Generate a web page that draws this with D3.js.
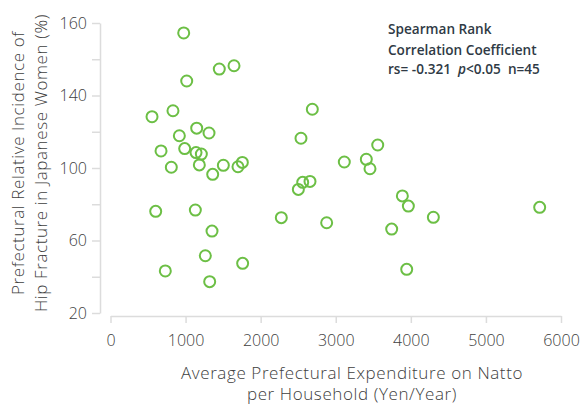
<!DOCTYPE html>
<html>
<head>
<meta charset="utf-8">
<script src="https://cdn.jsdelivr.net/npm/d3@7"></script>
<style>
	body{margin:0;background:#fff;}
	svg{display:block;font-family:"Open Sans",Lato,sans-serif;}
	.axis path,.axis line{stroke:#dcdcdc;stroke-width:1.5;}
	.axis text{fill:#404040;font-size:16px;font-family:"Open Sans",sans-serif;font-weight:300;}
	.title{fill:#404040;font-size:17px;font-weight:300;letter-spacing:0.6px;}
	.note{fill:#2f3a45;font-size:13.6px;font-weight:600;white-space:pre;}
</style>
</head>
<body>
<svg id="chart"></svg>
<script>
// natto spending (yen/year) and hip fracture incidence (%) per prefecture
const natto = [975,1449,1645,1015,553,832,1148,1312,917,673,988,1139,1210,810,1183,1361,1503,1698,1756,
	602,1130,1352,1263,1760,730,1321,2688,2537,3559,3114,3407,3456,2560,2657,2502,2275,2879,3887,3967,4300,3745,3945,5716];
const incidence = [174.5,154.6,156.4,148,128.3,131.6,122,119.3,117.8,109.4,110.7,108.5,107.7,100.4,101.7,96.5,101.5,100.7,103.1,
	76.1,76.8,65.2,51.6,47.4,43.2,37.3,132.4,116.4,112.7,103.3,104.8,99.6,92.1,92.6,88.2,72.6,69.8,84.6,79.0,72.8,66.3,44.1,78.3];
const xTicks = [0,1000,2000,3000,4000,5000,6000];
const yTicks = [20,40,60,80,100,120,140,160,180];
const yMajor = [20,60,100,140,180];
const yTickLabels = ["20","60","100","140","160"];
const noteLines = ["Spearman Rank","Correlation Coefficient"];

const width = 584, height = 406;
const svg = d3.select('#chart').attr('width',width).attr('height',height);

const x = d3.scaleLinear().domain([0,6000]).range([110.5,561]);
const y = d3.scaleLinear().domain([20,180]).range([313,23]);

const yAxis = d3.axisLeft(y)
	.tickValues(yTicks)
	.tickSize(8)
	.tickSizeOuter(0)
	.tickPadding(5)
	.tickFormat(d=>{
		const i = yMajor.indexOf(d);
		return i < 0 ? '' : yTickLabels[i];
	});
svg.append('g').attr('class','axis').attr('transform','translate(100,0)').call(yAxis);

const xAxis = d3.axisBottom(x)
	.tickValues(xTicks)
	.tickSize(7)
	.tickSizeOuter(0)
	.tickPadding(12)
	.tickFormat(d3.format('d'));
svg.append('g').attr('class','axis').attr('transform','translate(0,316)').call(xAxis);

// points
const pts = natto.map((v,i)=>({x:v,y:incidence[i]}));
svg.append('g').selectAll('circle')
	.data(pts)
	.join('circle')
		.attr('cx',d=>x(d.x))
		.attr('cy',d=>y(d.y))
		.attr('r',5.5)
		.attr('fill','none')
		.attr('stroke','#6cbf45')
		.attr('stroke-width',2);

// axis titles
svg.append('text').attr('class','title')
	.attr('x',352).attr('y',379).attr('text-anchor','middle')
	.text('Average Prefectural Expenditure on Natto');
svg.append('text').attr('class','title')
	.attr('x',352).attr('y',400).attr('text-anchor','middle')
	.text('per Household (Yen/Year)');
const yt = svg.append('text').attr('class','title')
	.attr('transform','translate(0,163) rotate(-90)')
	.attr('text-anchor','middle');
yt.append('tspan').attr('x',0).attr('y',24).text('Prefectural Relative Incidence of');
yt.append('tspan').attr('x',0).attr('y',47).text('Hip Fracture in Japanese Women (%)');

// spearman note
const note = svg.append('text').attr('class','note');
note.selectAll('tspan.l')
	.data(noteLines)
	.join('tspan')
		.classed('l',true)
		.attr('x',388)
		.attr('y',(d,i)=>34+i*20.5)
		.text(d=>d);
const last = svg.append('text').attr('class','note').attr('x',388).attr('y',74);
last.append('tspan').text('rs= -0.321  ');
last.append('tspan').attr('font-style','italic').text('p');
last.append('tspan').text('<0.05  n=45');
</script>
</body>
</html>
